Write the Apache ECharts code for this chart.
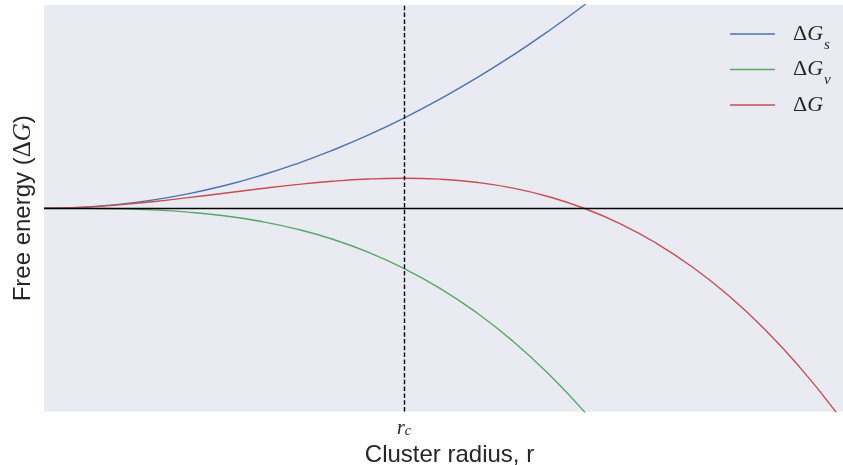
<!DOCTYPE html>
<html>
<head>
<meta charset="utf-8">
<script src="https://cdn.jsdelivr.net/npm/echarts@6/dist/echarts.min.js"></script>
<style>
  html, body { margin: 0; padding: 0; background: #ffffff; }
  #chart { width: 843px; height: 465px; }
</style>
</head>
<body>
<div id="chart"></div>
<script>
// Cluster radius samples (in units of the critical radius r_c)
const radius = [0, 0.1, 0.2, 0.3, 0.4, 0.5, 0.6, 0.7, 0.8, 0.9, 1.0, 1.1,
                1.2, 1.3, 1.4, 1.5, 1.6, 1.7, 1.8, 1.9, 2.0, 2.1, 2.2, 2.3];

// Surface energy term, ΔG_s (positive, grows with r²)
const surfaceEnergy = [0, 0.03, 0.12, 0.27, 0.48, 0.75, 1.08, 1.47, 1.92, 2.43, 3.0, 3.63,
                       4.32, 5.07, 5.88, 6.75, 7.68, 8.67];

// Volume energy term, ΔG_v (negative, grows with r³)
const volumeEnergy = [0, -0.002, -0.016, -0.054, -0.128, -0.25, -0.432, -0.686, -1.024, -1.458, -2.0, -2.662,
                      -3.456, -4.394, -5.488, -6.75, -8.19, -9.83];

// Total free energy, ΔG = ΔG_s + ΔG_v
const totalEnergy = [0, 0.028, 0.104, 0.216, 0.352, 0.5, 0.648, 0.784, 0.896, 0.972, 1.0, 0.968,
                     0.864, 0.676, 0.392, 0.0, -0.512, -1.156, -1.944, -2.888, -4.0, -5.292, -6.776, -8.464];

// Critical radius where ΔG peaks
const criticalRadius = 1.0;

const seriesNames = ['ΔG_s', 'ΔG_v', 'ΔG'];
const seriesColors = ['#4C72B0', '#55A868', '#C44E52'];
const legendLabels = {
  'ΔG_s': '{d|Δ}{g|G}{s|s}',
  'ΔG_v': '{d|Δ}{g|G}{s|v}',
  'ΔG': '{d|Δ}{g|G}'
};

const toPoints = values => values.map((v, i) => [radius[i], v]);

const textColor = '#262626';
const sans = 'Liberation Sans, Arial, sans-serif';
const serif = 'Liberation Serif, Times New Roman, serif';

const chart = echarts.init(document.getElementById('chart'), null, { renderer: 'canvas' });

const lineSeries = [surfaceEnergy, volumeEnergy, totalEnergy].map((vals, i) => ({
  name: seriesNames[i],
  type: 'line',
  data: toPoints(vals),
  smooth: true,
  symbol: 'none',
  clip: true,
  lineStyle: { color: seriesColors[i], width: 1.4 },
  itemStyle: { color: seriesColors[i] },
  z: 2
}));

// Zero reference line and critical radius marker
lineSeries.push({
  name: 'markers',
  type: 'line',
  data: [],
  z: 5,
  markLine: {
    silent: true,
    symbol: 'none',
    animation: false,
    label: { show: false },
    data: [
      { yAxis: 0, lineStyle: { color: '#000000', width: 1.4, type: 'solid' } },
      { xAxis: criticalRadius, lineStyle: { color: '#000000', width: 1.4, type: [4.5, 2.3] } }
    ]
  }
});

chart.setOption({
  animation: false,
  backgroundColor: '#ffffff',
  grid: {
    left: 44,
    right: -12,
    top: 5,
    bottom: 53.5,
    containLabel: false,
    outerBoundsMode: 'none',
    show: true,
    backgroundColor: '#EAEAF2',
    borderWidth: 0
  },
  legend: {
    data: seriesNames,
    orient: 'vertical',
    left: 730,
    top: 19,
    padding: 0,
    itemWidth: 45,
    itemHeight: 14,
    itemGap: 2,
    icon: 'path://M0,0 L45,0 L45,1.5 L0,1.5 Z',
    formatter: name => legendLabels[name],
    textStyle: {
      color: textColor,
      lineHeight: 30,
      rich: {
        d: { fontFamily: serif, fontSize: 22, color: textColor, padding: [0, 0, 0, 13], lineHeight: 30 },
        g: { fontFamily: serif, fontStyle: 'italic', fontSize: 22, color: textColor, lineHeight: 30 },
        s: { fontFamily: serif, fontStyle: 'italic', fontSize: 15, color: textColor, verticalAlign: 'bottom', height: 8, lineHeight: 8, padding: [0, 0, 0, 1] }
      }
    }
  },
  xAxis: {
    type: 'value',
    min: 0,
    max: 2.253,
    name: 'Cluster radius, r',
    nameLocation: 'middle',
    nameGap: 31,
    nameTextStyle: { fontFamily: sans, fontSize: 24, color: textColor },
    axisLine: { show: false },
    axisTick: { show: false },
    splitLine: { show: false },
    axisLabel: {
      customValues: [criticalRadius],
      margin: 7,
      formatter: () => '{r|r}{c|c}',
      rich: {
        r: { fontFamily: serif, fontStyle: 'italic', fontSize: 20, color: textColor, lineHeight: 20 },
        c: { fontFamily: serif, fontStyle: 'italic', fontSize: 14, color: textColor, verticalAlign: 'bottom', lineHeight: 4 }
      }
    }
  },
  yAxis: {
    type: 'value',
    min: -6.76,
    max: 6.76,
    name: '{t|Free energy (}{d|Δ}{g|G}{t|)}',
    nameLocation: 'middle',
    nameGap: 8,
    nameTextStyle: {
      color: textColor,
      rich: {
        t: { fontFamily: sans, fontSize: 24, color: textColor },
        d: { fontFamily: serif, fontSize: 25, color: textColor },
        g: { fontFamily: serif, fontStyle: 'italic', fontSize: 25, color: textColor }
      }
    },
    axisLine: { show: false },
    axisTick: { show: false },
    axisLabel: { show: false },
    splitLine: { show: false }
  },
  series: lineSeries
});
</script>
</body>
</html>
